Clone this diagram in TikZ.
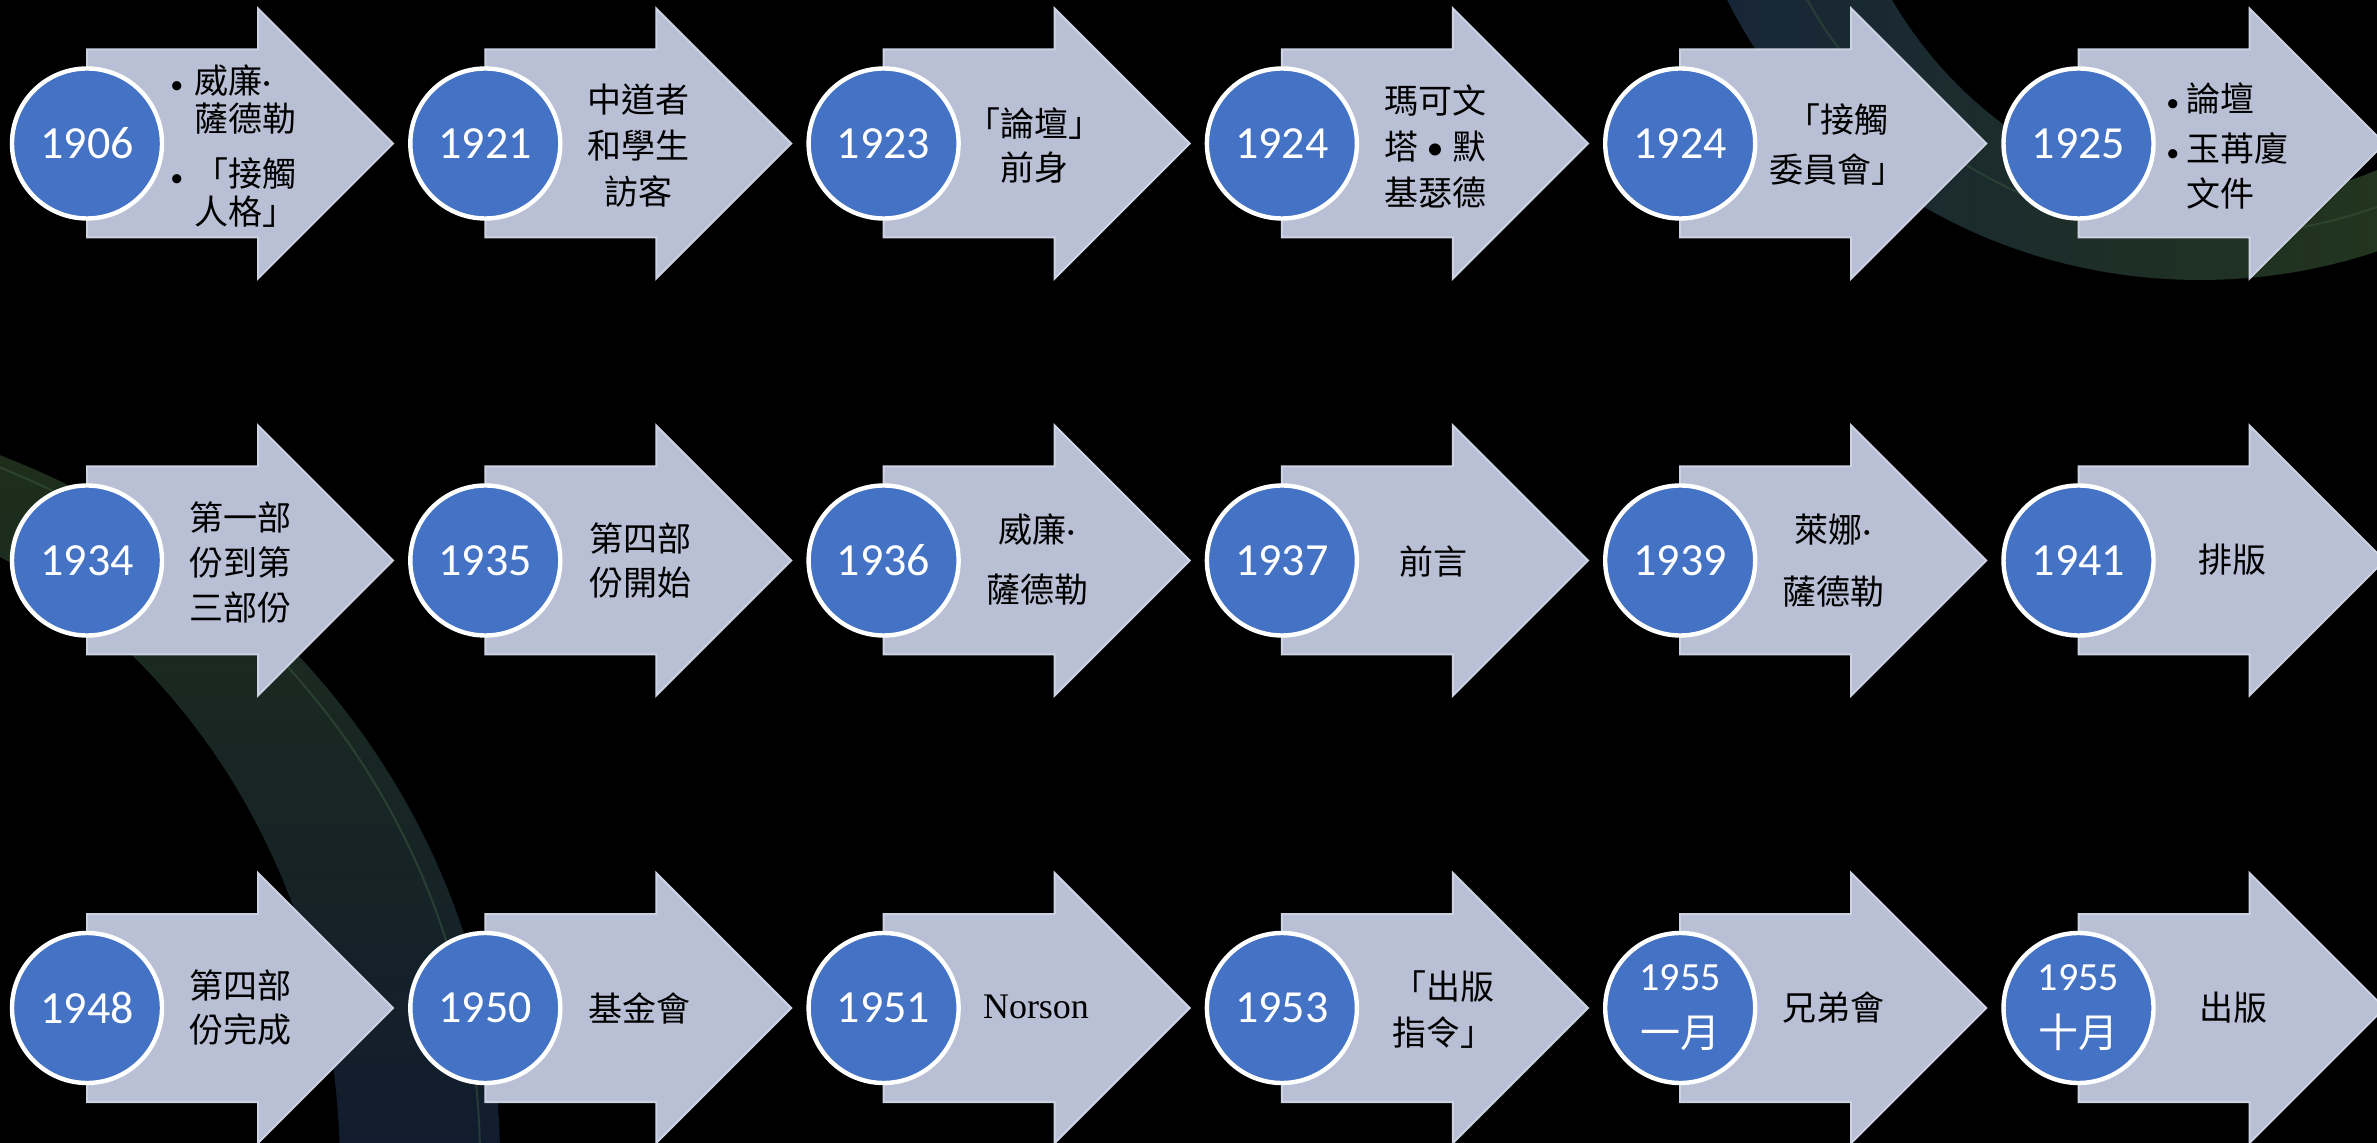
\documentclass[tikz,border=0pt]{standalone}
\usepackage{fontspec}
\setmainfont{Carlito}
\newfontfamily\cjkfont{Noto Sans CJK TC}
\newfontfamily\norfont{Liberation Serif}
\definecolor{arrowfill}{HTML}{B9C0D5}
\definecolor{arrowedge}{HTML}{CDD2E3}
\definecolor{circfill}{HTML}{4472C4}
\definecolor{bandgreen}{HTML}{22351D}
\definecolor{bandnavy}{HTML}{16243A}
\definecolor{bandgreenL}{HTML}{1F3019}
\definecolor{bandnavyL}{HTML}{111C2E}
\definecolor{streak}{HTML}{3A5A3E}
\newcommand{\bulA}{\makebox[12pt][l]{\normalfont\fontsize{13pt}{13pt}\selectfont\textbullet}}
\newcommand{\bulB}{\makebox[10pt][l]{\normalfont\fontsize{13pt}{13pt}\selectfont\textbullet}}
\newcommand{\mdot}{{\normalfont ·}}
\begin{document}
\begin{tikzpicture}[x=0.5pt,y=-0.5pt,
  tlarrow/.pic={\filldraw[fill=arrowfill,draw=arrowedge,line width=1pt]
     (0,-94) -- (171,-94) -- (171,-135) -- (306,0) -- (171,135) -- (171,94) -- (0,94) -- cycle;},
  yearc/.style={circle,fill=circfill,draw=white,line width=2.2pt,minimum size=75pt,inner sep=0pt,
     text=white,align=center,font=\fontsize{23pt}{27pt}\selectfont},
  desc/.style={align=center,text=black,inner sep=0pt,font=\cjkfont\fontsize{17pt}{23pt}\selectfont},
  bdesc/.style={align=left,text=black,inner sep=0pt,anchor=west},
  nor/.style={text=black,inner sep=0pt,font=\norfont\fontsize{18pt}{22pt}\selectfont}]
\fill[black] (0,0) rectangle (2377,1143);
\useasboundingbox (0,0) rectangle (2377,1143);
% decorative background bands
\begin{scope}[even odd rule]
  \clip (2200,-200) ellipse [x radius=260pt, y radius=240pt]
        (2230,-230) ellipse [x radius=200pt, y radius=215pt];
  \shade[left color=bandnavy, right color=bandgreen] (1650,-10) rectangle (2390,320);
\end{scope}
\draw[streak, opacity=0.45, line width=1pt] (2215,-215) ellipse [x radius=232pt, y radius=225pt];
\begin{scope}[even odd rule]
  \clip (-300,1160) ellipse [x radius=400pt, y radius=380pt]
        (-260,1170) ellipse [x radius=300pt, y radius=340pt];
  \shade[top color=bandgreenL, bottom color=bandnavyL] (-10,390) rectangle (560,1150);
\end{scope}
\draw[streak, opacity=0.5, line width=1pt] (-300,1160) ellipse [x radius=390pt, y radius=375pt];

% arrows
\foreach \xx in {87,485.3,883.6,1281.9,1680.2,2078.5}{
  \foreach \yy in {143.5,560.5,1008}{
    \pic at (\xx,\yy) {tlarrow};
  }
}

% row 1
\node[yearc] (c1) at (87,143.5) {1906};
\node[bdesc,font=\cjkfont\fontsize{17pt}{19pt}\selectfont] (t1) at (170,146)
  {\bulA 威廉\mdot\\\hspace*{12pt}薩德勒\\[8.5pt]\bulA 「接觸\\\hspace*{12pt}人格」};
\node[yearc] (c2) at (485.3,143.5) {1921};
\node[desc] (t2) at (638,146) {中道者\\和學生\\訪客};
\node[yearc] (c3) at (883.6,143.5) {1923};
\node[desc,font=\cjkfont\fontsize{17pt}{22pt}\selectfont] (t3) at (1034,145) {「論壇」\\前身};
\node[yearc] (c4) at (1281.9,143.5) {1924};
\node[desc] (t4) at (1435,146) {瑪可文\\塔\makebox[17pt]{\normalfont\textbullet}默\\基瑟德};
\node[yearc] (c5) at (1680.2,143.5) {1924};
\node[desc,font=\cjkfont\fontsize{17pt}{25pt}\selectfont] (t5) at (1837,145) {「接觸\\委員會」};
\node[yearc] (c6) at (2078.5,143.5) {1925};
\node[bdesc,font=\cjkfont\fontsize{17pt}{22.5pt}\selectfont] (t6) at (2166,146)
  {\bulB 論壇\\[2.5pt]\bulB 玉苒廈\\\hspace*{10pt}文件};

% row 2
\node[yearc] (c7) at (87,560.5) {1934};
\node[desc,font=\cjkfont\fontsize{17pt}{22.5pt}\selectfont] (t7) at (240,562) {第一部\\份到第\\三部份};
\node[yearc] (c8) at (485.3,560.5) {1935};
\node[desc,font=\cjkfont\fontsize{17pt}{22pt}\selectfont] (t8) at (640,560) {第四部\\份開始};
\node[yearc] (c9) at (883.6,560.5) {1936};
\node[desc,font=\cjkfont\fontsize{17pt}{30pt}\selectfont] (t9) at (1037,560) {威廉\mdot\\薩德勒};
\node[yearc] (c10) at (1281.9,560.5) {1937};
\node[desc] (t10) at (1433,562) {前言};
\node[yearc] (c11) at (1680.2,560.5) {1939};
\node[desc,font=\cjkfont\fontsize{17pt}{31pt}\selectfont] (t11) at (1833,561) {萊娜\mdot\\薩德勒};
\node[yearc] (c12) at (2078.5,560.5) {1941};
\node[desc] (t12) at (2232,560) {排版};

% row 3
\node[yearc] (c13) at (87,1008) {1948};
\node[desc,font=\cjkfont\fontsize{17pt}{22pt}\selectfont] (t13) at (240,1008) {第四部\\份完成};
\node[yearc] (c14) at (485.3,1008) {1950};
\node[desc] (t14) at (639,1008) {基金會};
\node[yearc] (c15) at (883.6,1008) {1951};
\node[nor] (t15) at (1036,1007) {Norson};
\node[yearc] (c16) at (1281.9,1008) {1953};
\node[desc] (t16) at (1443,1010) {「出版\\指令」};
\node[yearc,font=\fontsize{20pt}{28.5pt}\selectfont] (c17) at (1680.2,1008) {1955\\{\cjkfont 一月}};
\node[desc] (t17) at (1833,1008) {兄弟會};
\node[yearc,font=\fontsize{20pt}{28.5pt}\selectfont] (c18) at (2078.5,1008) {1955\\{\cjkfont 十月}};
\node[desc] (t18) at (2233,1008) {出版};
\end{tikzpicture}
\end{document}
